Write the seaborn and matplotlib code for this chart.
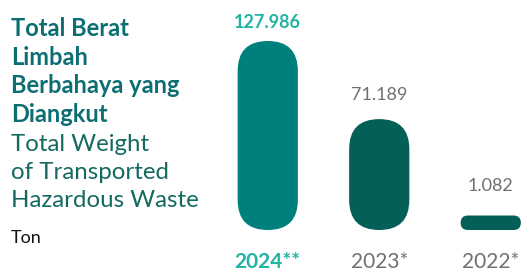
import matplotlib
matplotlib.use("Agg")
import matplotlib.pyplot as plt
import matplotlib.transforms as mtransforms
from matplotlib.patches import FancyBboxPatch, BoxStyle
import seaborn as sns
import pandas as pd

# data
years = ["2024**", "2023*", "2022*"]
values = [127.986, 71.189, 1.082]
value_labels = ["127.986", "71.189", "1.082"]

title_id = ["Total Berat", "Limbah", "Berbahaya yang", "Diangkut"]
title_en = ["Total Weight", "of Transported", "Hazardous Waste"]
unit = "Ton"

bar_colors = ["#00807c", "#045f57", "#045f57"]
label_colors = ["#22b3a3", "#707070", "#707070"]
label_weights = ["bold", "normal", "normal"]

sns.set_style("white")
plt.rcParams["font.family"] = ["Lato", "DejaVu Sans"]

W, H = 522, 271
fig = plt.figure(figsize=(W / 100, H / 100), dpi=100)
fig.patch.set_facecolor("white")

# bars axes (pixel layout)
base_px = 47.5      # baseline of data 0, from bottom
max_bar_px = 176.0  # px height of tallest bar (before the rounded padding)
unit_px = 111.5     # px between categories
ax = fig.add_axes([212 / W, base_px / H, 310 / W, (H - base_px) / H])

df = pd.DataFrame({"year": years, "value": values})
sns.barplot(data=df, x="year", y="value", hue="year", palette=bar_colors,
            width=0.54, legend=False, ax=ax, saturation=1)
ax.set_xlim(-0.5, -0.5 + 310 / unit_px)
ax.set_ylim(0, max(values) * (H - base_px) / max_bar_px)
ax.axis("off")

# turn bars into pills
fig.canvas.draw()
renderer = fig.canvas.get_renderer()
pad = 6.5
for patch, c in zip(ax.patches, bar_colors):
    bb = patch.get_window_extent(renderer)
    x0, y0, w, h = bb.x0, bb.y0 - pad, bb.width, bb.height + 2 * pad
    r = min(w, h) / 2
    pill = FancyBboxPatch((x0, y0), w, h,
                          boxstyle=BoxStyle.Round(pad=0, rounding_size=r),
                          transform=mtransforms.IdentityTransform(),
                          facecolor=c, edgecolor="none")
    fig.add_artist(pill)
    patch.set_visible(False)

# value labels above bars
label_offset_px = [24.5, 30.5, 36.5]
for i, (v, t) in enumerate(zip(values, value_labels)):
    ax.annotate(t, xy=(i, v), xytext=(0, label_offset_px[i] * 0.72),
                textcoords="offset points", ha="center", va="center",
                fontsize=13, color=label_colors[i], fontweight=label_weights[i])

# year labels
for i, y in enumerate(years):
    ax.annotate(y, xy=(i, 3), xycoords=("data", "figure pixels"),
                ha="center", va="baseline", fontsize=15,
                color=label_colors[i], fontweight=label_weights[i],
                annotation_clip=False)

# left text block
x_txt = 11 / W
for line, b in zip(title_id, [36, 65, 93, 122]):
    fig.text(x_txt, 1 - b / H, line, fontsize=17, fontweight="bold",
             color="#0b6e72", va="baseline", ha="left")
for line, b in zip(title_en, [151, 179, 207]):
    fig.text(x_txt, 1 - b / H, line, fontsize=17.3, color="#136a60",
             va="baseline", ha="left")
fig.text(x_txt, 1 - 243 / H, unit, fontsize=13, color="#111111",
         va="baseline", ha="left")

fig.savefig("out.png", dpi=100, facecolor="white")
